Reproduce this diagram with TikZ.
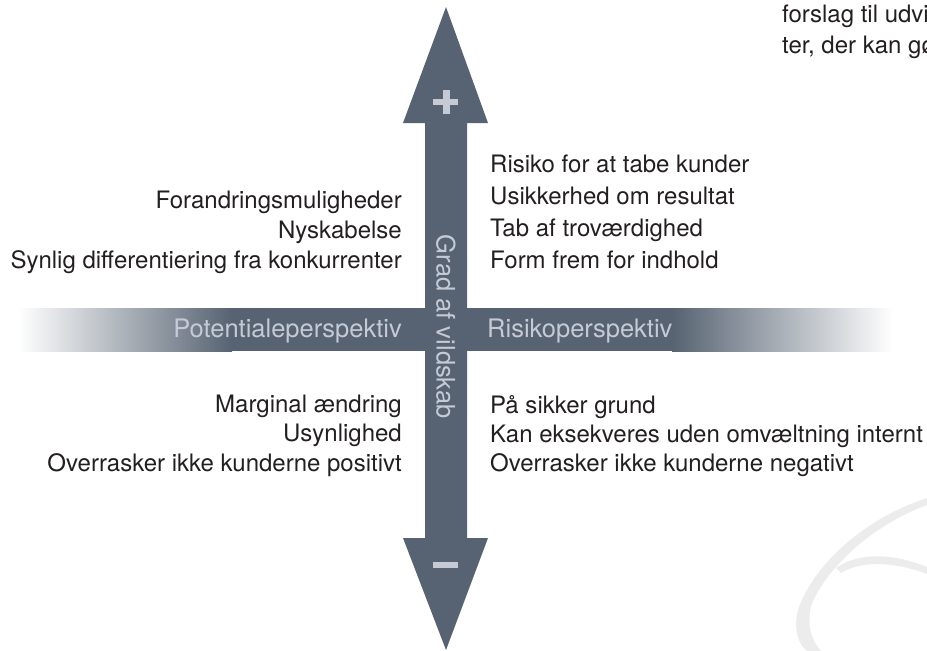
\documentclass[tikz,border=0pt]{standalone}
\usepackage{fontspec}
\setmainfont{TeX Gyre Heros}
\usepackage{tikz}
\usetikzlibrary{positioning}
\definecolor{axisslate}{RGB}{87,99,114}
\definecolor{axislight}{RGB}{197,202,212}
\definecolor{quadtext}{RGB}{35,31,32}
\definecolor{swooshgray}{RGB}{236,236,236}
\tikzset{
  quadlabel/.style={inner sep=0pt, text=quadtext,
    font=\fontsize{24}{28}\selectfont},
  bandlabel/.style={inner sep=0pt, text=axislight,
    font=\fontsize{25.5}{30}\selectfont},
  axisfill/.style={fill=axisslate},
  signfill/.style={fill=axislight},
  swoosh/.style={fill=swooshgray},
}

\begin{document}
\begin{tikzpicture}[x=1pt, y=-1pt]
  \useasboundingbox (0,0) rectangle (927,651);
  \clip (0,0) rectangle (927,651);

  % Faint watermark bottom right
  \path[swoosh] (927,498) .. controls (860,520) and (812,568) .. (798,610)
    .. controls (793,630) and (799,645) .. (807,651) -- (821,651)
    .. controls (811,640) and (807,625) .. (811,606)
    .. controls (825,570) and (870,526) .. (927,505) -- cycle;
  \path[swoosh] (836,568) .. controls (860,551) and (895,554) .. (927,567)
    -- (927,574) .. controls (895,562) and (862,560) .. (841,573) -- cycle;

  % Horizontal band
  \shade[left color=white, right color=axisslate] (18,308) rectangle (232,351);
  \path[axisfill] (232,308) rectangle (672,351);
  \shade[left color=axisslate, right color=white] (672,308) rectangle (893,351);

  % Vertical double arrow
  \path[axisfill] (425,123) -- (403,123) -- (446,7) -- (488,123) -- (467,123)
    -- (467,538) -- (488,538) -- (446,650) -- (403,538) -- (425,538) -- cycle;

  % Plus and minus
  \path[signfill] (433,99) rectangle (458,105);
  \path[signfill] (442.5,90) rectangle (449.5,114);
  \path[signfill] (433,562) rectangle (458,568);

  % Axis labels
  \node[bandlabel, rotate=-90] (grad) at (446,327) {Grad af vildskab};
  \node[bandlabel, anchor=base east] (pot) at (402,337) {Potentialeperspektiv};
  \node[bandlabel, anchor=base west] (ris) at (487,337) {Risikoperspektiv};

  % Upper left
  \node[quadlabel, anchor=base east] (ul1) at (402,208) {Forandringsmuligheder};
  \node[quadlabel, anchor=base east] (ul2) at (402,238) {Nyskabelse};
  \node[quadlabel, anchor=base east] (ul3) at (402,268)
    {Synlig differentiering fra konkurrenter};

  % Upper right
  \node[quadlabel, anchor=base west] (ur1) at (490,172) {Risiko for at tabe kunder};
  \node[quadlabel, anchor=base west] (ur2) at (490,204) {Usikkerhed om resultat};
  \node[quadlabel, anchor=base west] (ur3) at (490,236) {Tab af troværdighed};
  \node[quadlabel, anchor=base west] (ur4) at (490,268) {Form frem for indhold};

  % Lower left
  \node[quadlabel, anchor=base east] (ll1) at (402,412) {Marginal ændring};
  \node[quadlabel, anchor=base east] (ll2) at (402,441) {Usynlighed};
  \node[quadlabel, anchor=base east] (ll3) at (402,471)
    {Overrasker ikke kunderne positivt};

  % Lower right
  \node[quadlabel, anchor=base west] (lr1) at (490,413) {På sikker grund};
  \node[quadlabel, anchor=base west] (lr2) at (490,442)
    {Kan eksekveres uden omvæltning internt};
  \node[quadlabel, anchor=base west] (lr3) at (490,471)
    {Overrasker ikke kunderne negativt};

  % Cut-off text top right
  \node[quadlabel, anchor=base west] (tr1) at (782,22) {forslag til udvi};
  \node[quadlabel, anchor=base west] (tr2) at (782,53) {ter, der kan gø};
\end{tikzpicture}
\end{document}
